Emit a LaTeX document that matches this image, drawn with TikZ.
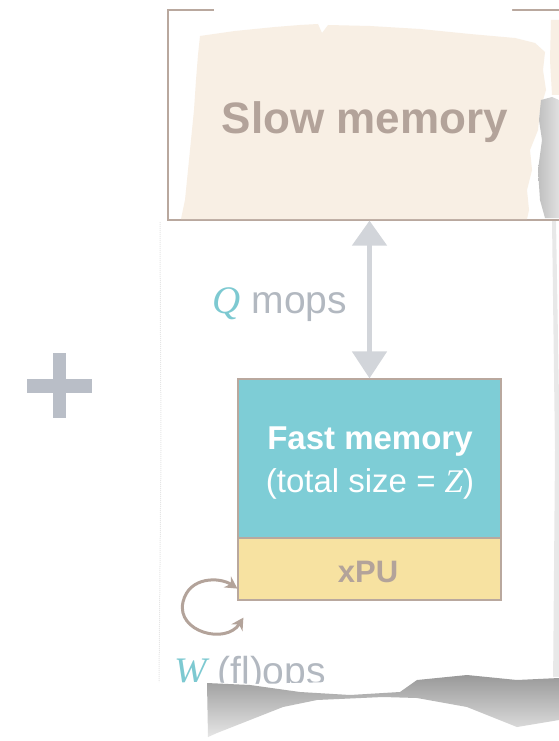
\documentclass[tikz,border=0pt]{standalone}
\usepackage{fontspec}
\setmainfont{Liberation Sans}
\newfontfamily\varfont{Liberation Serif}
\usepackage{tikz}
\usetikzlibrary{arrows.meta}

\definecolor{PaperBeige}{HTML}{F8EFE4}
\definecolor{FrameBrown}{HTML}{B9A89E}
\definecolor{SlowText}{HTML}{B3A39A}
\definecolor{FastTeal}{HTML}{7ECDD6}
\definecolor{XpuYellow}{HTML}{F7E2A1}
\definecolor{ArrowGray}{HTML}{D2D5DA}
\definecolor{PlusGray}{HTML}{B9BEC7}
\definecolor{OpsGray}{HTML}{B2B8C0}
\definecolor{VarTeal}{HTML}{7DC9D1}

\newcommand{\var}[1]{{\varfont\itshape #1}}

\begin{document}
\begin{tikzpicture}[x=1pt, y=-1pt,
    boxline/.style={draw=FrameBrown, line width=1.2pt},
    fastbox/.style={boxline, fill=FastTeal, minimum width=263pt, minimum height=159pt,
      text=white, align=center, inner sep=0pt},
    xpubox/.style={boxline, fill=XpuYellow, minimum width=263pt, minimum height=62pt,
      text=SlowText, font=\fontsize{31}{34}\selectfont\bfseries, inner sep=0pt},
    opslabel/.style={text=OpsGray, font=\fontsize{39}{42}\selectfont, inner sep=0pt},
    memarrow/.style={ArrowGray, line width=5pt,
      {Triangle[width=34pt,length=25pt]}-{Triangle[width=34pt,length=27pt]}},
    looparrow/.style={SlowText, line width=3pt,
      {Stealth[length=12pt,width=13pt]}-{Stealth[length=12pt,width=13pt]}}]
  \useasboundingbox (0,0) rectangle (559,741);
  \clip (0,0) rectangle (559,741);

  % Plus sign
  \fill[PlusGray] (27,379) rectangle (92,393);
  \fill[PlusGray] (53,353) rectangle (66,418);

  % Paper edges
  \draw[black!10, densely dotted, line width=1pt] (160,222) -- (161,450) -- (159,682);
  \fill[black!9] (552,220) -- (556,220) -- (559,400) -- (559,690) -- (553,690) -- (555,450) -- cycle;

  % Slow memory (torn)
  \node[boxline, fill=white, minimum width=432pt, minimum height=210pt] (slowbox) at (384,115) {};
  \fill[white] (214,4) -- (250,4) -- (300,5) -- (400,5) -- (512,4) -- (512,16) -- (470,18)
    -- (420,15) -- (360,17) -- (300,16) -- (250,19) -- (214,16) -- cycle;
  \fill[PaperBeige] (200,36) -- (235,31) -- (275,27) -- (300,25) -- (318,24) -- (322,33)
    -- (328,25) -- (370,26) -- (420,29) -- (470,34) -- (515,38) -- (535,43) -- (545,52)
    -- (543,70) -- (546,90) -- (540,110) -- (538,130) -- (530,150) -- (532,170) -- (527,190)
    -- (529,210) -- (527,219) -- (181,219) -- (185,200) -- (188,170) -- (191,140)
    -- (194,110) -- (196,80) -- (198,55) -- cycle;
  \fill[PaperBeige] (551,20) -- (559,20) -- (559,95) -- (552,95) -- (550,60) -- cycle;
  \shade[left color=black!25, right color=black!12]
    (541,100) -- (552,97) -- (559,100) -- (559,218) -- (545,218) -- (540,200)
    -- (538,170) -- (542,140) -- (539,120) -- cycle;
  \node[text=SlowText, font=\fontsize{44}{48}\selectfont\bfseries, anchor=base] (slowlabel)
    at (365,133) {Slow memory};

  % Fast memory and xPU
  \node[fastbox] (fast) at (369.5,458.5) {};
  \node[text=white, font=\fontsize{33}{36}\selectfont\bfseries, anchor=base] (fastlabel)
    at (370,449) {Fast memory};
  \node[text=white, font=\fontsize{33}{36}\selectfont, anchor=base] (sizelabel)
    at (370,492) {(total size = \var{Z})};
  \node[xpubox] (xpu) at (369.5,569) {};
  \node[text=SlowText, font=\fontsize{31}{34}\selectfont\bfseries, anchor=base] (xpulabel)
    at (368,582) {xPU};

  % Transfers
  \draw[memarrow] (slowbox.south -| fast.north) -- (fast.north);
  \node[opslabel, anchor=base] (mops) at (280,313) {\textcolor{VarTeal}{\var{Q}} mops};

  % Compute loop
  \coordinate (loopin) at ([yshift=12pt]xpu.south west);
  \coordinate (loopout) at ([xshift=6pt,yshift=-17pt]xpu.south west);
  \draw[looparrow] (loopout) .. controls (226,645) and (176,632) .. (183,602)
    .. controls (189,576) and (220,577) .. (loopin);
  \node[opslabel, anchor=base west] (flops) at (174,684) {\textcolor{VarTeal}{\var{W}} (fl)ops};

  % Torn bottom
  \fill[white] (150,683) -- (200,682) -- (260,684) -- (330,682) -- (420,680) -- (480,675)
    -- (559,677) -- (559,741) -- (150,741) -- cycle;
  \shade[top color=black!40, bottom color=black!10]
    (207,683) -- (250,685) -- (300,692) -- (350,695) -- (400,692) -- (417,680) -- (467,675)
    -- (517,680) -- (559,678) -- (559,720) -- (517,727) -- (467,707) -- (417,698)
    -- (383,697) -- (317,700) -- (283,707) -- (250,720) -- (217,733) -- (208,737) -- cycle;
\end{tikzpicture}
\end{document}
